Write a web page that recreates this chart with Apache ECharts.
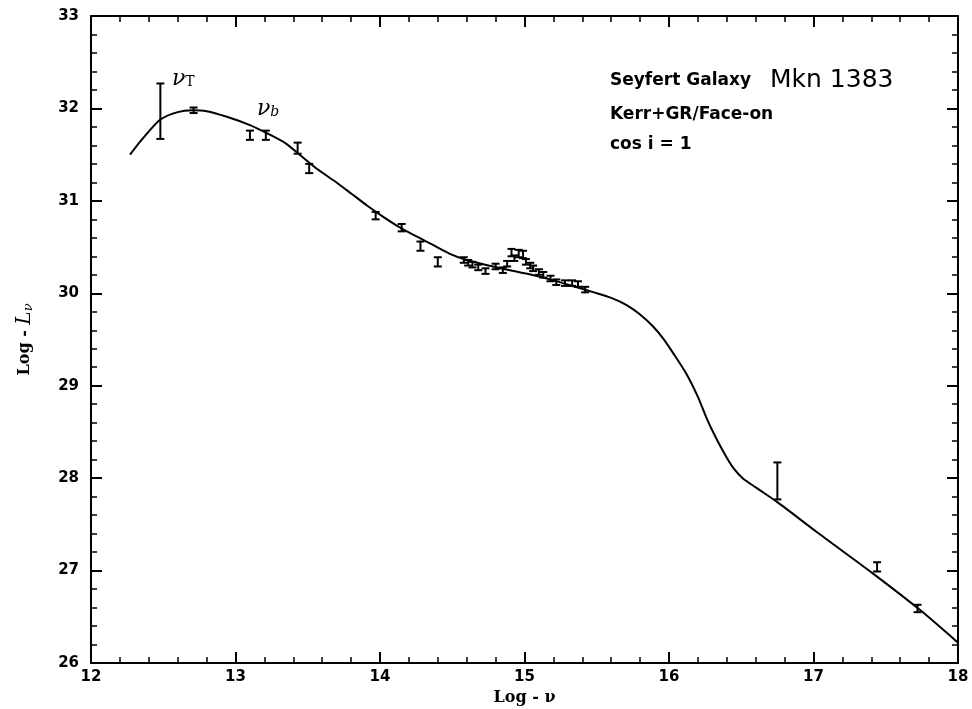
<!DOCTYPE html>
<html>
<head>
<meta charset="utf-8">
<script src="https://cdn.jsdelivr.net/npm/echarts@6/dist/echarts.min.js"></script>
<style>
  html, body { margin: 0; padding: 0; background: #fff; }
  #chart { width: 972px; height: 709px; }
</style>
</head>
<body>
<div id="chart"></div>
<script>
// model curve (log nu, log L_nu)
const curveX = [12.27, 12.35, 12.48, 12.6, 12.7, 12.8, 12.94, 13.1, 13.22, 13.35, 13.45, 13.56, 13.68, 13.8, 13.91, 14.02, 14.14, 14.26, 14.37, 14.48, 14.6, 14.75, 14.9, 15.05, 15.2, 15.35, 15.48, 15.6, 15.71, 15.8, 15.89, 15.96, 16.03, 16.12, 16.2, 16.26, 16.33, 16.4, 16.45, 16.51, 16.6, 16.75, 17.02, 17.41, 17.74, 18.0]
const curveY = [31.5, 31.66, 31.88, 31.96, 31.98, 31.97, 31.91, 31.82, 31.73, 31.62, 31.49, 31.35, 31.22, 31.08, 30.95, 30.83, 30.71, 30.61, 30.52, 30.43, 30.36, 30.3, 30.25, 30.2, 30.14, 30.07, 30.01, 29.95, 29.87, 29.77, 29.64, 29.51, 29.35, 29.13, 28.88, 28.65, 28.42, 28.22, 28.1, 28.0, 27.9, 27.74, 27.42, 26.97, 26.57, 26.22]

// observed points with error half-widths
const obsX = [12.48, 12.71, 13.10, 13.21, 13.43, 13.51, 13.97, 14.15, 14.28, 14.40, 14.58, 14.61, 14.64, 14.68, 14.73, 14.80, 14.85, 14.88, 14.91, 14.93, 14.96, 14.99, 15.01, 15.04, 15.06, 15.10, 15.13, 15.18, 15.22, 15.28, 15.33, 15.37, 15.42, 16.75, 17.44, 17.72]
const obsY = [31.97, 31.98, 31.71, 31.71, 31.57, 31.35, 30.84, 30.71, 30.51, 30.34, 30.36, 30.33, 30.31, 30.28, 30.24, 30.29, 30.25, 30.32, 30.44, 30.38, 30.43, 30.42, 30.34, 30.30, 30.27, 30.23, 30.20, 30.16, 30.12, 30.11, 30.11, 30.10, 30.04, 27.97, 27.04, 26.59]
const obsErr = [0.30, 0.03, 0.05, 0.05, 0.06, 0.05, 0.04, 0.04, 0.05, 0.05, 0.03, 0.03, 0.03, 0.03, 0.03, 0.03, 0.03, 0.03, 0.04, 0.03, 0.04, 0.04, 0.03, 0.03, 0.03, 0.03, 0.03, 0.03, 0.03, 0.03, 0.03, 0.03, 0.03, 0.20, 0.05, 0.04]

const chart = echarts.init(document.getElementById('chart'))

const curveData = curveX.map((x, i) => [x, curveY[i]])
const obsData = obsX.map((x, i) => [x, obsY[i] - obsErr[i], obsY[i] + obsErr[i]])

const labelFont = { color: '#000', fontWeight: 'bold', fontSize: 15, fontFamily: 'DejaVu Sans' }

function axisCommon(showLabel, margin) {
  return {
    axisLine: { onZero: false, lineStyle: { color: '#000', width: 2 } },
    axisTick: { inside: true, length: 11, lineStyle: { color: '#000', width: 2 } },
    minorTick: { show: true, splitNumber: 5, length: 6, lineStyle: { color: '#000', width: 1.5 } },
    splitLine: { show: false },
    axisLabel: Object.assign({ show: showLabel, margin: margin || 8 }, labelFont)
  }
}

chart.setOption({
  backgroundColor: '#fff',
  animation: false,
  grid: { left: 91, right: 14, top: 16, bottom: 46, outerBoundsMode: 'none', containLabel: false },
  xAxis: [
    Object.assign({
      type: 'value', min: 12, max: 18, interval: 1, position: 'bottom',
      name: 'Log - ν', nameLocation: 'middle', nameGap: 27,
      nameTextStyle: { color: '#000', fontSize: 16, fontWeight: 'bold', fontFamily: 'DejaVu Serif' }
    }, axisCommon(true, 7)),
    Object.assign({ type: 'value', min: 12, max: 18, interval: 1, position: 'top' }, axisCommon(false))
  ],
  yAxis: [
    Object.assign({
      type: 'value', min: 26, max: 33, interval: 1, position: 'left',
      name: '{a|Log - }{b|L}{c|ν}', nameLocation: 'middle', nameGap: 56, nameRotate: 90,
      nameTextStyle: {
        rich: {
          a: { color: '#000', fontSize: 16, fontWeight: 'bold', fontFamily: 'DejaVu Serif' },
          b: { color: '#000', fontSize: 20, fontStyle: 'italic', fontFamily: 'DejaVu Serif' },
          c: { color: '#000', fontSize: 13, fontStyle: 'italic', fontFamily: 'DejaVu Serif', padding: [8, 0, 0, 0] }
        }
      }
    }, axisCommon(true, 12)),
    Object.assign({ type: 'value', min: 26, max: 33, interval: 1, position: 'right' }, axisCommon(false))
  ],
  series: [
    {
      type: 'line',
      data: curveData,
      smooth: 0.25,
      showSymbol: false,
      lineStyle: { color: '#000', width: 2 },
      z: 3
    },
    {
      type: 'custom',
      data: obsData,
      z: 4,
      renderItem: function (params, api) {
        const lo = api.coord([api.value(0), api.value(1)])
        const hi = api.coord([api.value(0), api.value(2)])
        const cap = 4
        const style = { stroke: '#000', lineWidth: 2 }
        return {
          type: 'group',
          children: [
            { type: 'line', shape: { x1: lo[0], y1: lo[1], x2: hi[0], y2: hi[1] }, style: style },
            { type: 'line', shape: { x1: lo[0] - cap, y1: lo[1], x2: lo[0] + cap, y2: lo[1] }, style: style },
            { type: 'line', shape: { x1: hi[0] - cap, y1: hi[1], x2: hi[0] + cap, y2: hi[1] }, style: style }
          ]
        }
      }
    }
  ],
  graphic: [
    {
      type: 'text', left: 172, top: 68,
      style: {
        text: '{n|ν}{s|T}',
        rich: {
          n: { fontSize: 22, fontStyle: 'italic', fontFamily: 'DejaVu Serif', fill: '#000' },
          s: { fontSize: 14, fontFamily: 'DejaVu Serif', fill: '#000', padding: [6, 0, 0, 0] }
        }
      }
    },
    {
      type: 'text', left: 257, top: 98,
      style: {
        text: '{n|ν}{s|b}',
        rich: {
          n: { fontSize: 22, fontStyle: 'italic', fontFamily: 'DejaVu Serif', fill: '#000' },
          s: { fontSize: 14, fontStyle: 'italic', fontFamily: 'DejaVu Serif', fill: '#000', padding: [6, 0, 0, 0] }
        }
      }
    },
    {
      type: 'text', left: 610, top: 72,
      style: { text: 'Seyfert Galaxy', fontSize: 17, fontWeight: 'bold', fontFamily: 'DejaVu Sans', fill: '#000' }
    },
    {
      type: 'text', left: 770, top: 68,
      style: { text: 'Mkn 1383', fontSize: 25, fontFamily: 'DejaVu Sans', fill: '#000' }
    },
    {
      type: 'text', left: 610, top: 106,
      style: { text: 'Kerr+GR/Face-on', fontSize: 17, fontWeight: 'bold', fontFamily: 'DejaVu Sans', fill: '#000' }
    },
    {
      type: 'text', left: 610, top: 136,
      style: { text: 'cos i = 1', fontSize: 17, fontWeight: 'bold', fontFamily: 'DejaVu Sans', fill: '#000' }
    }
  ]
})
</script>
</body>
</html>
